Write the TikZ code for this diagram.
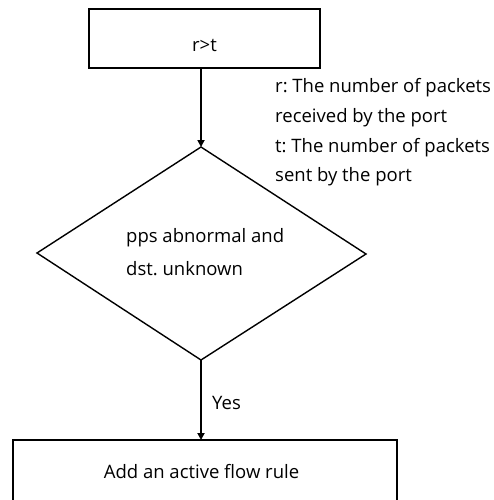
\documentclass[tikz,border=0pt]{standalone}
\usepackage{fontspec}
\setmainfont{Open Sans}
\usetikzlibrary{arrows.meta}
\tikzset{
  procbox/.style={draw, line width=2.8pt, fill=white},
  flow/.style={line width=2.8pt, -{Triangle[length=7pt,width=7pt]}},
  lbl/.style={font=\frenchspacing\fontsize{18.5}{21}\selectfont, inner sep=0pt, anchor=west},
}
\begin{document}
\begin{tikzpicture}[x=1pt,y=-1pt]
  \useasboundingbox (0,0) rectangle (494,500);
  % process boxes
  \draw[procbox] (89,9) rectangle (320,68);
  \node[lbl, anchor=center] (cond) at (204.5,45) {r>t};
  \coordinate (topout) at (201,68);
  \draw[line width=1.4pt] (201,147) coordinate (dtop) -- (366,254) -- (201,360) coordinate (dbot) -- (37,253) -- cycle;
  \draw[procbox] (13,440) rectangle (397,501);
  \coordinate (boxin) at (201,440);
  % labels
  \node[lbl] (leg1) at (275,88) {r: The number of packets};
  \node[lbl] (leg2) at (275,118) {received by the port};
  \node[lbl] (leg3) at (275,148) {t: The number of packets};
  \node[lbl] (leg4) at (275,177) {sent by the port};
  \node[lbl] (dq1) at (126,238) {pps abnormal and};
  \node[lbl] (dq2) at (126,269) {dst. unknown};
  \node[lbl] (yes) at (212,403) {Yes};
  \node[lbl, anchor=center] (act) at (201.5,472) {Add an active flow rule};
  % connectors
  \draw[flow] (topout) -- (dtop);
  \draw[flow] (dbot) -- (boxin);
\end{tikzpicture}
\end{document}
